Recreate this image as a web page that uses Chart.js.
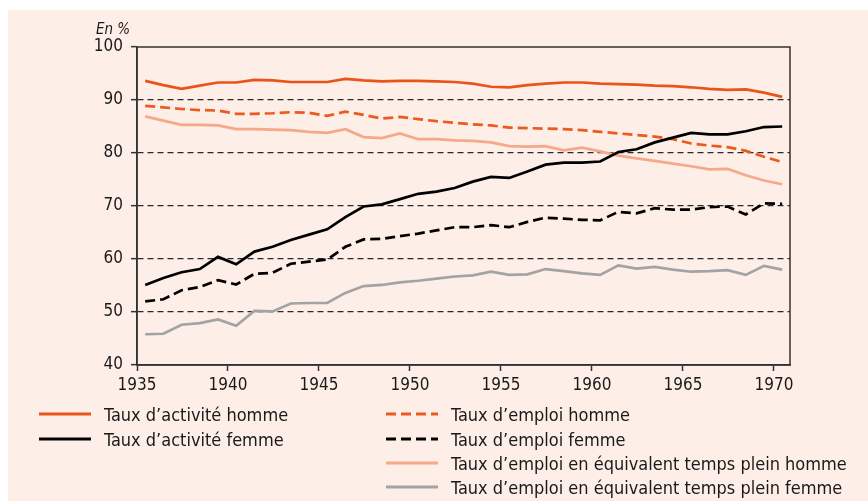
<!DOCTYPE html>
<html lang="fr">
<head>
<meta charset="utf-8">
<script src="https://cdn.jsdelivr.net/npm/chart.js@4.4.1/dist/chart.umd.min.js"></script>
<style>
  html, body { margin: 0; padding: 0; background: #fff; }
  body { width: 868px; height: 501px; position: relative; overflow: hidden;
         font-family: 'DejaVu Sans Condensed', 'DejaVu Sans', sans-serif; color: #1a1a1a; }
  #panel { position: absolute; left: 8px; top: 10px; width: 860px; height: 491px; background: #fdeee7; }
  #chart { position: absolute; left: 0; top: 0; }
  #unit { position: absolute; left: 88px; top: 10px; line-height: 18px; font-style: italic; font-size: 15px; }
  .leg { position: absolute; height: 20px; display: flex; align-items: center; font-size: 18px; white-space: nowrap; }
  .leg svg { margin-right: 13px; }
</style>
</head>
<body>
<div id="panel">
  <canvas id="chart" width="860" height="491"></canvas>
  <div id="unit">En %</div>
  <div id="legend"></div>
</div>
<script>
const years = [1935, 1936, 1937, 1938, 1939, 1940, 1941, 1942, 1943, 1944, 1945, 1946,
  1947, 1948, 1949, 1950, 1951, 1952, 1953, 1954, 1955, 1956, 1957, 1958,
  1959, 1960, 1961, 1962, 1963, 1964, 1965, 1966, 1967, 1968, 1969, 1970];

const activiteHomme = [93.6, 92.8, 92.1, 92.7, 93.3, 93.3, 93.8, 93.7, 93.4, 93.4, 93.4, 94.0,
  93.7, 93.5, 93.6, 93.6, 93.5, 93.4, 93.1, 92.5, 92.4, 92.8, 93.1, 93.3,
  93.3, 93.1, 93.0, 92.9, 92.7, 92.6, 92.4, 92.1, 91.9, 92.0, 91.4, 90.6];
const activiteFemme = [55.1, 56.4, 57.5, 58.1, 60.4, 59.0, 61.4, 62.3, 63.6, 64.6, 65.6, 67.9,
  69.9, 70.3, 71.3, 72.3, 72.7, 73.4, 74.6, 75.5, 75.3, 76.5, 77.8, 78.2,
  78.2, 78.4, 80.2, 80.7, 82.0, 82.9, 83.8, 83.5, 83.5, 84.1, 84.9, 85.0];
const emploiHomme = [88.9, 88.6, 88.3, 88.1, 88.0, 87.4, 87.4, 87.5, 87.7, 87.6, 87.0, 87.8,
  87.2, 86.5, 86.8, 86.4, 86.0, 85.7, 85.4, 85.2, 84.8, 84.7, 84.6, 84.5,
  84.3, 84.0, 83.7, 83.4, 83.1, 82.6, 81.8, 81.4, 81.1, 80.4, 79.3, 78.3];
const emploiFemme = [52.0, 52.4, 54.1, 54.7, 56.0, 55.2, 57.2, 57.4, 59.1, 59.5, 59.9, 62.3,
  63.7, 63.8, 64.3, 64.8, 65.4, 66.0, 66.0, 66.4, 66.0, 67.0, 67.8, 67.6,
  67.4, 67.3, 68.9, 68.6, 69.6, 69.3, 69.3, 69.8, 69.9, 68.4, 70.5, 70.4];
const etpHomme = [86.9, 86.1, 85.3, 85.3, 85.2, 84.5, 84.5, 84.4, 84.3, 84.0, 83.8, 84.5,
  83.0, 82.8, 83.7, 82.6, 82.6, 82.4, 82.3, 82.0, 81.3, 81.2, 81.3, 80.5,
  81.0, 80.3, 79.5, 79.0, 78.5, 78.0, 77.5, 76.9, 77.0, 75.8, 74.8, 74.1];
const etpFemme = [45.8, 45.9, 47.6, 47.9, 48.6, 47.4, 50.2, 50.1, 51.6, 51.7, 51.7, 53.6,
  54.9, 55.1, 55.6, 55.9, 56.3, 56.7, 56.9, 57.6, 57.0, 57.1, 58.1, 57.7,
  57.3, 57.0, 58.8, 58.2, 58.5, 58.0, 57.6, 57.7, 57.9, 57.0, 58.7, 58.0];

const seriesLabels = [
  'Taux d\u2019activité homme',
  'Taux d\u2019activité femme',
  'Taux d\u2019emploi homme',
  'Taux d\u2019emploi femme',
  'Taux d\u2019emploi en équivalent temps plein homme',
  'Taux d\u2019emploi en équivalent temps plein femme'
];
const yTicks = [40, 50, 60, 70, 80, 90, 100];
const xTicks = [1935, 1940, 1945, 1950, 1955, 1960, 1965, 1970];

// annual values sit in the middle of each year
const pts = (vals) => vals.map((v, i) => ({ x: years[i] + 0.45, y: v }));

const styles = [
  { color: '#e9541b', dash: [] },
  { color: '#000000', dash: [] },
  { color: '#ec5a1e', dash: [10, 5] },
  { color: '#000000', dash: [10, 5] },
  { color: '#f5a98a', dash: [] },
  { color: '#a3a3a3', dash: [] }
];
const allValues = [activiteHomme, activiteFemme, emploiHomme, emploiFemme, etpHomme, etpFemme];

const datasets = allValues.map((vals, i) => ({
  label: seriesLabels[i],
  data: pts(vals),
  borderColor: styles[i].color,
  borderDash: styles[i].dash,
  borderWidth: 2.7,
  pointRadius: 0,
  tension: 0,
  fill: false
}));

const frame = {
  id: 'frame',
  afterDraw(chart) {
    const { ctx, chartArea: a } = chart;
    ctx.save();
    ctx.strokeStyle = '#333';
    ctx.lineWidth = 1.5;
    ctx.strokeRect(a.left, a.top, a.right - a.left, a.bottom - a.top);
    ctx.restore();
  }
};

const tickFont = { family: "'DejaVu Sans Condensed', 'DejaVu Sans', sans-serif", size: 17 };

const chart = new Chart(document.getElementById('chart'), {
  type: 'line',
  data: { datasets },
  options: {
    responsive: false,
    animation: false,
    layout: { padding: { left: 0, top: 37, right: 78, bottom: 96 } },
    plugins: { legend: { display: false }, tooltip: { enabled: false } },
    scales: {
      x: {
        type: 'linear',
        min: 1935,
        max: 1970.88,
        afterFit: (s) => { s.height = 40; },
        afterBuildTicks: (s) => { s.ticks = xTicks.map(v => ({ value: v })); },
        ticks: { font: tickFont, color: '#1a1a1a', padding: 4, maxRotation: 0, callback: (v) => String(v) },
        grid: { drawOnChartArea: false, drawTicks: true, tickLength: 6, tickColor: '#333', tickWidth: 1.5 },
        border: { color: '#333', width: 1.5 }
      },
      y: {
        min: 40,
        max: 100,
        afterFit: (s) => { s.width = 129; },
        afterBuildTicks: (s) => { s.ticks = yTicks.map(v => ({ value: v })); },
        ticks: { font: tickFont, color: '#1a1a1a', padding: 8, callback: (v) => String(v) },
        grid: {
          color: (c) => (c.tick && (c.tick.value === 40 || c.tick.value === 100)) ? 'rgba(0,0,0,0)' : '#2a2a2a',
          lineWidth: 1.3,
          tickLength: 6,
          tickColor: '#333',
          tickWidth: 1.5,
          tickBorderDash: []
        },
        border: { color: '#333', width: 1.5, dash: [6, 4] }
      }
    }
  },
  plugins: [frame]
});

// legend built from the datasets
const legendSlots = [
  { left: 31, top: 394 }, { left: 31, top: 419 },
  { left: 378, top: 394 }, { left: 378, top: 419 },
  { left: 378, top: 443 }, { left: 378, top: 467 }
];
const legend = document.getElementById('legend');
chart.data.datasets.forEach((ds, i) => {
  const item = document.createElement('div');
  item.className = 'leg';
  item.style.left = legendSlots[i].left + 'px';
  item.style.top = legendSlots[i].top + 'px';
  const dash = (ds.borderDash || []).join(',');
  item.innerHTML = `<svg width="52" height="6"><line x1="0" y1="3" x2="52" y2="3" stroke="${ds.borderColor}" stroke-width="3" ${dash ? `stroke-dasharray="${dash}"` : ''}/></svg><span>${ds.label}</span>`;
  legend.appendChild(item);
});
</script>
</body>
</html>
